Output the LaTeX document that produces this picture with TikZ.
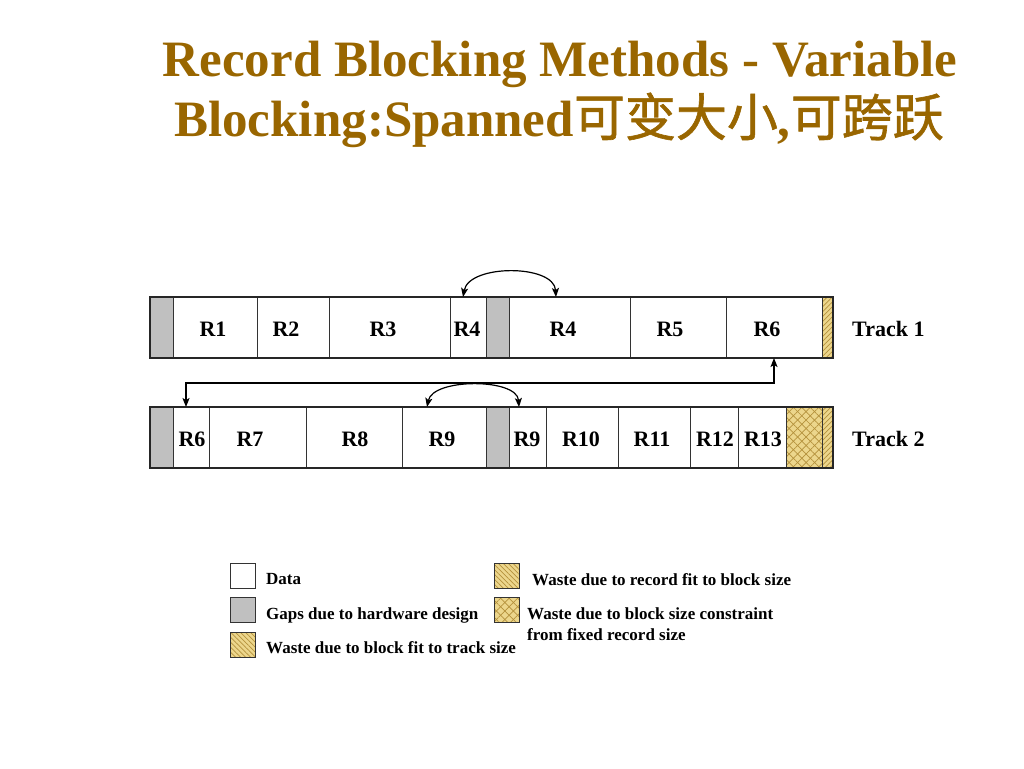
\documentclass[tikz,border=0pt]{standalone}
\usepackage{fontspec}
\setmainfont{Liberation Serif}
\newfontfamily\cjk{Noto Sans CJK SC}[FakeBold=1.2]
\usetikzlibrary{patterns.meta,arrows.meta}
\definecolor{titlec}{RGB}{153,102,0}
\definecolor{gapc}{RGB}{192,192,192}
\definecolor{tanc}{RGB}{236,214,140}
\definecolor{hatchc}{RGB}{180,145,60}
\newcommand\cellnode[5]{\node[cellbox,#5,minimum width={#3pt-#2pt}] (#1) at (#2,#4) {};}
\begin{document}
\begin{tikzpicture}[x=1pt,y=-1pt,
  cellbox/.style={draw=black!80,line width=1pt,inner sep=0pt,outer sep=0pt,anchor=north west,minimum height=61pt},
  datac/.style={fill=white},
  gapfill/.style={fill=gapc},
  wastene/.style={preaction={fill=tanc},pattern={Lines[angle=45,distance=3.5pt,line width=0.7pt]},pattern color=hatchc},
  wastenw/.style={preaction={fill=tanc},pattern={Lines[angle=-45,distance=3.5pt,line width=0.7pt]},pattern color=hatchc},
  wastex/.style={preaction={fill=tanc},preaction={pattern={Lines[angle=45,distance=6pt,line width=0.7pt]},pattern color=hatchc},pattern={Lines[angle=-45,distance=6pt,line width=0.7pt]},pattern color=hatchc},
  rlab/.style={font=\bfseries\fontsize{22}{26}\selectfont,inner sep=0pt},
  leg/.style={font=\bfseries\fontsize{17}{20}\selectfont,inner sep=0pt,anchor=base west},
  legbox/.style={draw=black!80,line width=1pt,inner sep=0pt,anchor=north west,minimum width=25pt,minimum height=25pt},
  title/.style={font=\bfseries\fontsize{51}{56}\selectfont,text=titlec,inner sep=0pt,anchor=base},
  conn/.style={line width=1.2pt,{Stealth[length=9pt,width=7pt,inset=2pt]}-{Stealth[length=9pt,width=7pt,inset=2pt]}}
]
\useasboundingbox (0,0) rectangle (1024,768);

% title
\node[title] (t1) at (560,76) {Record Blocking Methods - Variable};
\node[title] (t2) at (559,136) {Blocking:Spanned{\cjk\mdseries 可变大小},{\cjk\mdseries 可跨跃}};

% track 1
\cellnode{g1a}{150}{173}{297}{gapfill}
\cellnode{r1}{173}{257}{297}{datac}
\cellnode{r2}{257}{329}{297}{datac}
\cellnode{r3}{329}{450}{297}{datac}
\cellnode{r4a}{450}{486}{297}{datac}
\cellnode{g1b}{486}{509}{297}{gapfill}
\cellnode{r4b}{509}{630}{297}{datac}
\cellnode{r5}{630}{726}{297}{datac}
\cellnode{r6a}{726}{822}{297}{datac}
\cellnode{w1}{822}{833}{297}{wastene}
\draw[line width=1.4pt,black!85] (g1a.north west) rectangle (w1.south east);

\node[rlab] (l1) at (213,329) {R1};
\node[rlab] (l2) at (286,329) {R2};
\node[rlab] (l3) at (383,329) {R3};
\node[rlab] (l4a) at (467,329) {R4};
\node[rlab] (l4b) at (563,329) {R4};
\node[rlab] (l5) at (670,329) {R5};
\node[rlab] (l6a) at (767,329) {R6};
\node[rlab,anchor=west] (tr1) at (852,329) {Track 1};

% track 2
\cellnode{g2a}{150}{173}{407}{gapfill}
\cellnode{r6b}{173}{209}{407}{datac}
\cellnode{r7}{209}{306}{407}{datac}
\cellnode{r8}{306}{402}{407}{datac}
\cellnode{r9a}{402}{486}{407}{datac}
\cellnode{g2b}{486}{509}{407}{gapfill}
\cellnode{r9b}{509}{546}{407}{datac}
\cellnode{r10}{546}{618}{407}{datac}
\cellnode{r11}{618}{690}{407}{datac}
\cellnode{r12}{690}{738}{407}{datac}
\cellnode{r13}{738}{786}{407}{datac}
\cellnode{x2}{786}{822}{407}{wastex}
\cellnode{w2}{822}{833}{407}{wastene}
\draw[line width=1.4pt,black!85] (g2a.north west) rectangle (w2.south east);

\node[rlab] (m6) at (192,439) {R6};
\node[rlab] (m7) at (250,439) {R7};
\node[rlab] (m8) at (355,439) {R8};
\node[rlab] (m9a) at (442,439) {R9};
\node[rlab] (m9b) at (527,439) {R9};
\node[rlab] (m10) at (581,439) {R10};
\node[rlab] (m11) at (652,439) {R11};
\node[rlab] (m12) at (715,439) {R12};
\node[rlab] (m13) at (763,439) {R13};
\node[rlab,anchor=west] (tr2) at (852,439) {Track 2};

% connectors
\draw[conn] ([xshift=-5pt]r4a.north) .. controls +(6,-33) and +(-2,-33) .. ([xshift=-13.5pt]r4b.north);
\draw[conn] ([xshift=-5pt]r6b.north) -- ++(0,-24) -| (r6a.south);
\draw[conn] ([xshift=-17pt]r9a.north) .. controls +(6,-29) and +(-2,-29) .. ([xshift=-8.5pt]r9b.north);

% legend
\node[legbox,fill=white] (k1) at (230,563) {};
\node[legbox,fill=gapc] (k2) at (230,597) {};
\node[legbox,wastenw] (k3) at (230,632) {};
\node[legbox,wastenw] (k4) at (494,563) {};
\node[legbox,wastex] (k5) at (494,597) {};
\node[leg] (d1) at (266,584) {Data};
\node[leg] (d2) at (266,619) {Gaps due to hardware design};
\node[leg] (d3) at (266,653) {Waste due to block fit to track size};
\node[leg] (d4) at (532,585) {Waste due to record fit to block size};
\node[leg] (d5) at (527,619) {Waste due to block size constraint};
\node[leg] (d6) at (527,640) {from fixed record size};
\end{tikzpicture}
\end{document}
